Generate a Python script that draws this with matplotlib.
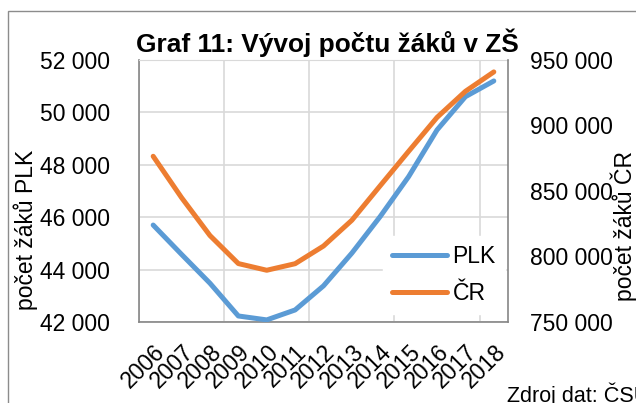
import numpy as np
import matplotlib
matplotlib.use("Agg")
import matplotlib.pyplot as plt
import matplotlib.transforms as mtransforms
from matplotlib.ticker import FuncFormatter, FixedLocator
from matplotlib.patches import Rectangle

plt.rcParams["font.family"] = ["Liberation Sans", "DejaVu Sans"]

years = ["2006", "2007", "2008", "2009", "2010", "2011", "2012",
         "2013", "2014", "2015", "2016", "2017", "2018"]
plk = [45700, 44580, 43480, 42230, 42080, 42460, 43380,
       44630, 46030, 47550, 49330, 50600, 51200]
cr = [876500, 844900, 816000, 794600, 789500, 794500, 808000,
      827700, 854100, 880300, 906200, 926100, 940900]

BLUE = "#5B9BD5"
ORANGE = "#ED7D31"
GRID = "#D9D9D9"
SPINE = "#868686"


def thousands(v, pos):
    return f"{int(v):,}".replace(",", " ")


W, H = 636, 403
fig = plt.figure(figsize=(W / 100, H / 100), dpi=100)

# outer frame of the chart (cut off at right and bottom)
fig.patches.append(Rectangle((8 / W, -0.1), 1.2, 1 - 11 / H + 0.1, transform=fig.transFigure,
                             fill=False, edgecolor="#8C8C8C", lw=1.0))

ax = fig.add_axes([139 / W, 1 - 322 / H, 369 / W, 262 / H])
x = np.arange(len(years))

ax.plot(x, plk, color=BLUE, lw=3.6, solid_capstyle="round", label="PLK", zorder=3)
ax.set_xlim(-0.5, len(years) - 0.5)
ax.set_ylim(42000, 52000)
ax.set_yticks(np.arange(42000, 52001, 2000))
ax.yaxis.set_major_formatter(FuncFormatter(thousands))
ax.set_xticks(x)
ax.set_xticklabels(years, rotation=45, ha="right", va="top", rotation_mode="anchor")
shift = mtransforms.ScaledTranslation(-3 / 100, 0, fig.dpi_scale_trans)
for lab in ax.get_xticklabels():
    lab.set_transform(lab.get_transform() + shift)
ax.xaxis.set_minor_locator(FixedLocator([-0.5, 2.5, 5.5, 8.5, 11.5]))
ax.grid(True, which="major", axis="y", color=GRID, lw=1.2)
ax.grid(True, which="minor", axis="x", color=GRID, lw=1.2)
ax.tick_params(axis="both", which="both", length=0, labelsize=16.5)
ax.tick_params(axis="y", pad=21)
ax.tick_params(axis="x", pad=13)
for s in ["left", "bottom"]:
    ax.spines[s].set_color(SPINE)
    ax.spines[s].set_linewidth(1.2)
ax.spines["top"].set_color(GRID)
ax.spines["right"].set_visible(False)

ax2 = ax.twinx()
ax2.plot(x, cr, color=ORANGE, lw=3.6, solid_capstyle="round", label="ČR", zorder=3)
ax2.set_ylim(750000, 950000)
ax2.set_yticks(np.arange(750000, 950001, 50000))
ax2.yaxis.set_major_formatter(FuncFormatter(thousands))
ax2.tick_params(axis="y", length=0, labelsize=16.5, pad=16)
ax2.spines["right"].set_color(SPINE)
ax2.spines["right"].set_linewidth(1.2)
for s in ["left", "top", "bottom"]:
    ax2.spines[s].set_visible(False)

handles = ax.get_lines()[:1] + ax2.get_lines()[:1]
leg = ax2.legend(handles, ["PLK", "ČR"], loc="lower left", bbox_to_anchor=(0.66, 0.03),
                 frameon=True, fontsize=16.5, handlelength=2.4, handletextpad=0.25,
                 labelspacing=0.6, borderpad=0.4, borderaxespad=0)
leg.get_frame().set_facecolor("white")
leg.get_frame().set_edgecolor("white")
leg.get_frame().set_alpha(1)
leg.get_frame().set_boxstyle("square", pad=0.0)

fig.text(327 / W, 1 - 43 / H, "Graf 11: Vývoj počtu žáků v ZŠ", ha="center", va="center",
         fontsize=18.9, fontweight="bold")
fig.text(26 / W, 1 - 230 / H, "počet žáků PLK", rotation=90, ha="center", va="center",
         fontsize=16.5)
fig.text(624 / W, 1 - 226 / H, "počet žáků ČR", rotation=90, ha="center", va="center",
         fontsize=16.5)
fig.text(507 / W, 1 / H, "Zdroj dat: ČSÚ", ha="left", va="baseline", fontsize=15.5)

fig.savefig("out.png", dpi=100)
